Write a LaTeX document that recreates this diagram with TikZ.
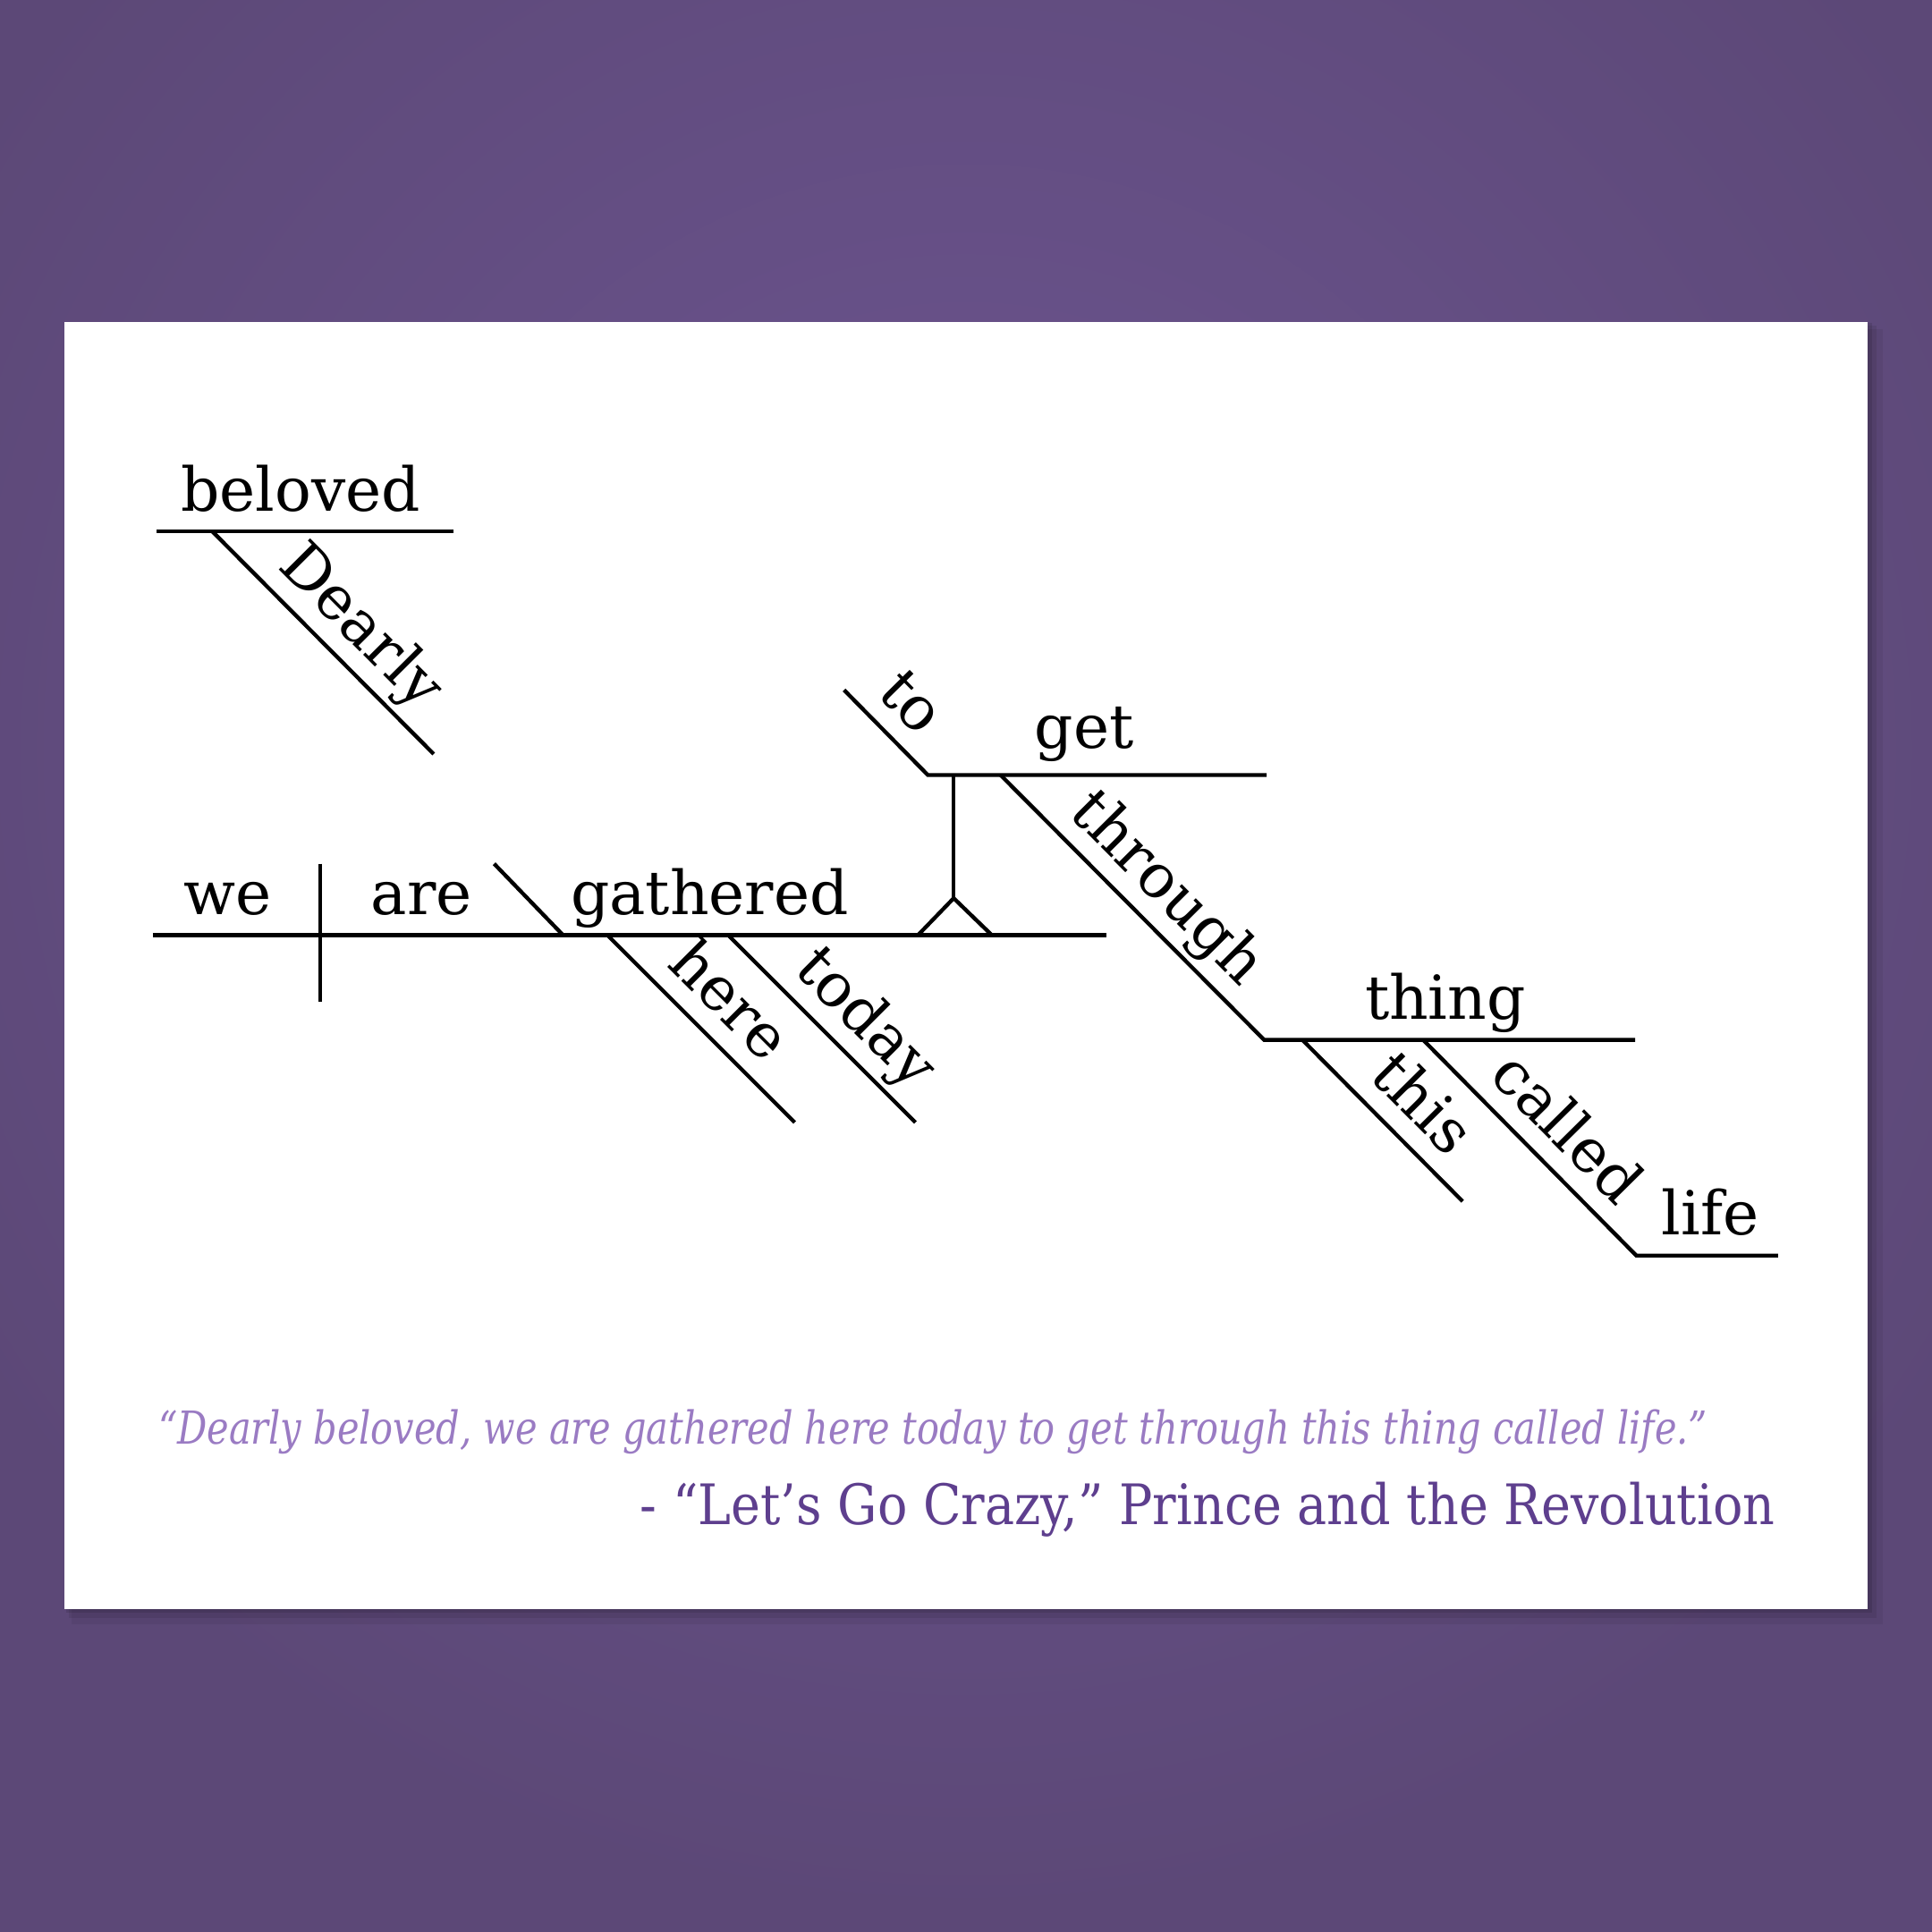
\documentclass[tikz,border=0pt]{standalone}
\usepackage{fontspec}
\usepackage{xcolor}
\newfontfamily\wordfont{DejaVu Serif}
\newfontfamily\quotefont[FakeStretch=0.816]{DejaVu Serif}
\newfontfamily\citefont[FakeStretch=0.89]{DejaVu Serif}
\definecolor{bgout}{HTML}{5C4877}
\definecolor{bgin}{HTML}{6D5591}
\definecolor{quotecol}{HTML}{9A7BC3}
\definecolor{citecol}{HTML}{5E3F8E}
\tikzset{
  word/.style={font=\wordfont\fontsize{14}{16}\selectfont, inner sep=0pt, text depth=0.22em},
  flat/.style={word, anchor=base},
  slant/.style={word, sloped, above=2pt},
  quotetext/.style={font=\quotefont\itshape\fontsize{10.5}{12}\selectfont, text=quotecol, inner sep=0pt},
  citetext/.style={font=\citefont\fontsize{12.9}{15}\selectfont, text=citecol, inner sep=0pt},
}
\begin{document}
\begin{tikzpicture}[line width=0.9pt]
\useasboundingbox (0,0) rectangle (15.68,15.68);
\fill[bgout] (0,0) rectangle (15.68,15.68);
\shade[inner color=bgin, outer color=bgout] (7.84,9.6) circle (9.5cm);
\fill[black, opacity=0.06] (0.58,2.50) rectangle (15.28,13.01);
\fill[black, opacity=0.08] (0.56,2.55) rectangle (15.23,13.04);
\fill[black, opacity=0.10] (0.54,2.59) rectangle (15.19,13.06);
\fill[white] (0.52,2.62) rectangle (15.16,13.07);

\coordinate (belA) at (1.27,11.37);
\coordinate (belB) at (3.68,11.37);
\coordinate (deaA) at (1.72,11.37);
\coordinate (deaB) at (3.52,9.56);
\coordinate (mainA) at (1.24,8.09);
\coordinate (mainB) at (8.98,8.09);
\coordinate (divT) at (2.60,8.67);
\coordinate (divB) at (2.60,7.55);
\coordinate (slashT) at (4.01,8.67);
\coordinate (slashB) at (4.57,8.09);
\coordinate (hereA) at (4.93,8.09);
\coordinate (hereB) at (6.45,6.57);
\coordinate (todayA) at (5.91,8.09);
\coordinate (todayB) at (7.43,6.57);
\coordinate (pedL) at (7.45,8.09);
\coordinate (pedR) at (8.05,8.09);
\coordinate (pedApex) at (7.74,8.39);
\coordinate (pedTop) at (7.74,9.39);
\coordinate (getA) at (7.53,9.39);
\coordinate (getB) at (10.28,9.39);
\coordinate (toA) at (6.85,10.08);
\coordinate (thrA) at (8.12,9.39);
\coordinate (thrB) at (10.26,7.24);
\coordinate (thingB) at (13.27,7.24);
\coordinate (thisA) at (10.57,7.24);
\coordinate (thisB) at (11.87,5.93);
\coordinate (calA) at (11.55,7.24);
\coordinate (calB) at (13.28,5.49);
\coordinate (lifeB) at (14.43,5.49);

\draw (belA) -- (belB);
\draw (deaA) -- node[slant, pos=.55] (dearly) {Dearly} (deaB);
\draw (mainA) -- (mainB);
\draw (divT) -- (divB);
\draw (slashT) -- (slashB);
\draw (hereA) -- node[slant, pos=.50] (here) {here} (hereB);
\draw (todayA) -- node[slant, pos=.59] (today) {today} (todayB);
\draw (pedL) -- (pedApex) -- (pedR);
\draw (pedApex) -- (pedTop);
\draw (toA) -- node[slant, pos=.47] (to) {to} (getA) -- (getB);
\draw (thrA) -- node[slant, pos=.53] (through) {through} (thrB) -- (thingB);
\draw (thisA) -- node[slant, pos=.57] (this) {this} (thisB);
\draw (calA) -- node[slant, pos=.54] (called) {called} (calB) -- (lifeB);

\node[flat] (beloved) at (2.44,11.53) {beloved};
\node[flat] (we) at (1.85,8.26) {we};
\node[flat] (are) at (3.42,8.26) {are};
\node[flat] (gathered) at (5.76,8.26) {gathered};
\node[flat] (get) at (8.80,9.61) {get};
\node[flat] (thing) at (11.73,7.41) {thing};
\node[flat] (life) at (13.88,5.66) {life};

\node[quotetext, anchor=base west] (quote) at (1.27,3.96) {“Dearly beloved, we are gathered here today to get through this thing called life.”};
\node[citetext, anchor=base east] (cite) at (14.42,3.31) {- “Let’s Go Crazy,” Prince and the Revolution};
\end{tikzpicture}
\end{document}
